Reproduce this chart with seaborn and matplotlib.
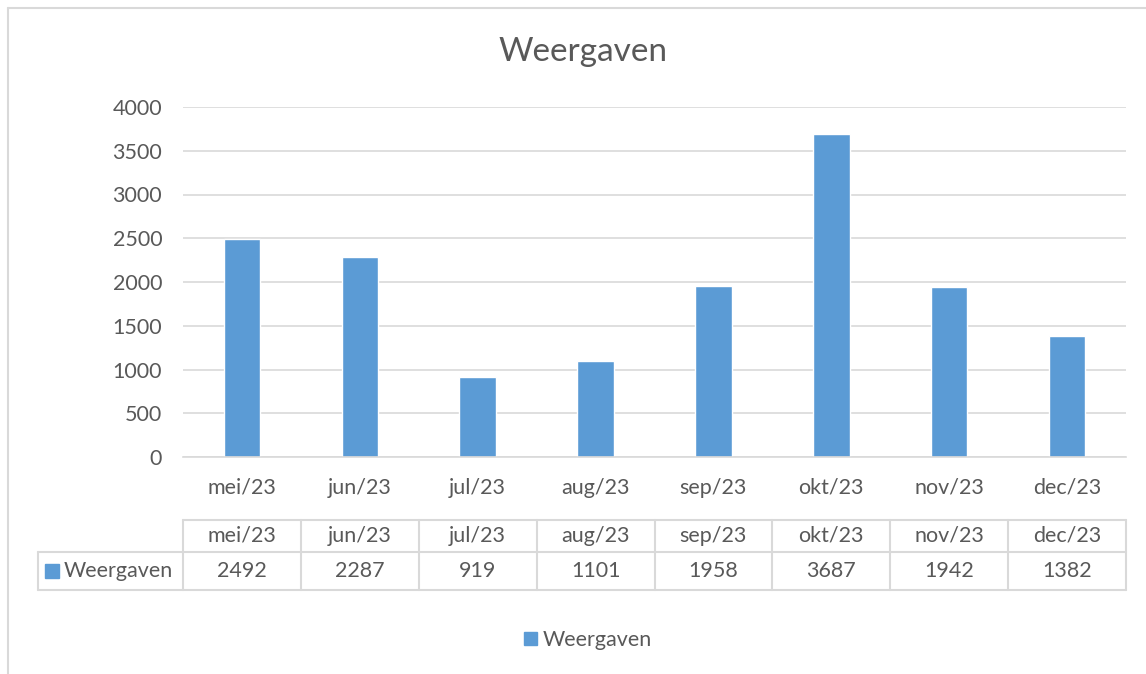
# Weergaven per maand, Excel-style bar chart with data table underneath
import matplotlib
matplotlib.use("Agg")
import matplotlib.pyplot as plt
from matplotlib.lines import Line2D
from matplotlib.patches import Patch
import matplotlib.transforms as mtransforms
import pandas as pd
import seaborn as sns

## Data
months = ["mei/23", "jun/23", "jul/23", "aug/23", "sep/23", "okt/23", "nov/23", "dec/23"]
views = [2492, 2287, 919, 1101, 1958, 3687, 1942, 1382]
series_name = "Weergaven"
y_ticks = [0, 500, 1000, 1500, 2000, 2500, 3000, 3500, 4000]

# colors
BAR = "#5B9BD5"
TXT = "#595959"
GRID = "#D9D9D9"
FS = 15.5  # text size for ticks / table / legend

sns.set_style("white")
plt.rcParams["font.family"] = ["Lato", "DejaVu Sans"]

W, H = 1146, 674
fig = plt.figure(figsize=(W / 100, H / 100), dpi=100)
# plot area in pixels: x 183..1126, y 107..457
ax = fig.add_axes([183 / W, 1 - 457 / H, (1126 - 183) / W, (457 - 107) / H])

df = pd.DataFrame({"month": months, "views": views})
sns.barplot(data=df, x="month", y="views", color=BAR, width=0.31, saturation=1, ax=ax)

ax.set_xlim(-0.5, len(months) - 0.5)
ax.set_ylim(0, 4000)
ax.set_yticks(y_ticks)
ax.set_yticklabels([str(t) for t in y_ticks])
ax.set_xlabel("")
ax.set_ylabel("")
ax.tick_params(axis="y", length=0, pad=15, labelsize=FS, labelcolor=TXT)
ax.tick_params(axis="x", length=0, pad=15, labelsize=FS, labelcolor=TXT)
ax.grid(axis="y", color=GRID, linewidth=1.2)
ax.set_axisbelow(True)
for s in ["top", "right", "left"]:
    ax.spines[s].set_visible(False)
ax.spines["bottom"].set_color(GRID)
ax.spines["bottom"].set_linewidth(1.2)

# title
fig.text(583 / W, 1 - 52 / H, series_name, ha="center", va="center", fontsize=24, color=TXT)

## Data table below the axis (x in data units, y in axes units)
trans = mtransforms.blended_transform_factory(ax.transData, ax.transAxes)
ph = 457 - 107
y_top = (457 - 520) / ph
y_mid = (457 - 552) / ph
y_bot = (457 - 590) / ph
x_left = -0.5 - (183 - 38) / ((1126 - 183) / len(months))
x_right = len(months) - 0.5

def tline(xs, ys):
    ax.add_line(Line2D(xs, ys, transform=trans, color=GRID, linewidth=1.5, clip_on=False))

tline([-0.5, x_right], [y_top, y_top])
tline([x_left, x_right], [y_mid, y_mid])
tline([x_left, x_right], [y_bot, y_bot])
tline([x_left, x_left], [y_mid, y_bot])
for i in range(len(months) + 1):
    tline([i - 0.5, i - 0.5], [y_top, y_bot])

for i, (m, v) in enumerate(zip(months, views)):
    ax.text(i, (y_top + y_mid) / 2, m, transform=trans, ha="center", va="center",
            fontsize=FS, color=TXT, clip_on=False)
    ax.text(i, (y_mid + y_bot) / 2, str(v), transform=trans, ha="center", va="center",
            fontsize=FS, color=TXT, clip_on=False)

# series label cell with a small colour key
fig.patches.append(plt.Rectangle((45 / W, 1 - 578 / H), 14 / W, 14 / H,
                                 transform=fig.transFigure, color=BAR))
fig.text(64 / W, 1 - 571 / H, series_name, ha="left", va="center", fontsize=FS, color=TXT)

## Legend at the bottom
fig.legend(handles=[Patch(color=BAR, label=series_name)], loc="center",
           bbox_to_anchor=(588 / W, 1 - 640 / H), frameon=False, fontsize=FS,
           handlelength=0.6, handleheight=0.6, handletextpad=0.3, labelcolor=TXT)

## Outer chart border (top and left visible)
fig.add_artist(Line2D([8 / W, 1], [1 - 8 / H, 1 - 8 / H], transform=fig.transFigure,
                      color=GRID, linewidth=1.5))
fig.add_artist(Line2D([8 / W, 8 / W], [0, 1 - 8 / H], transform=fig.transFigure,
                      color=GRID, linewidth=1.5))

fig.savefig("out.png", dpi=100)
